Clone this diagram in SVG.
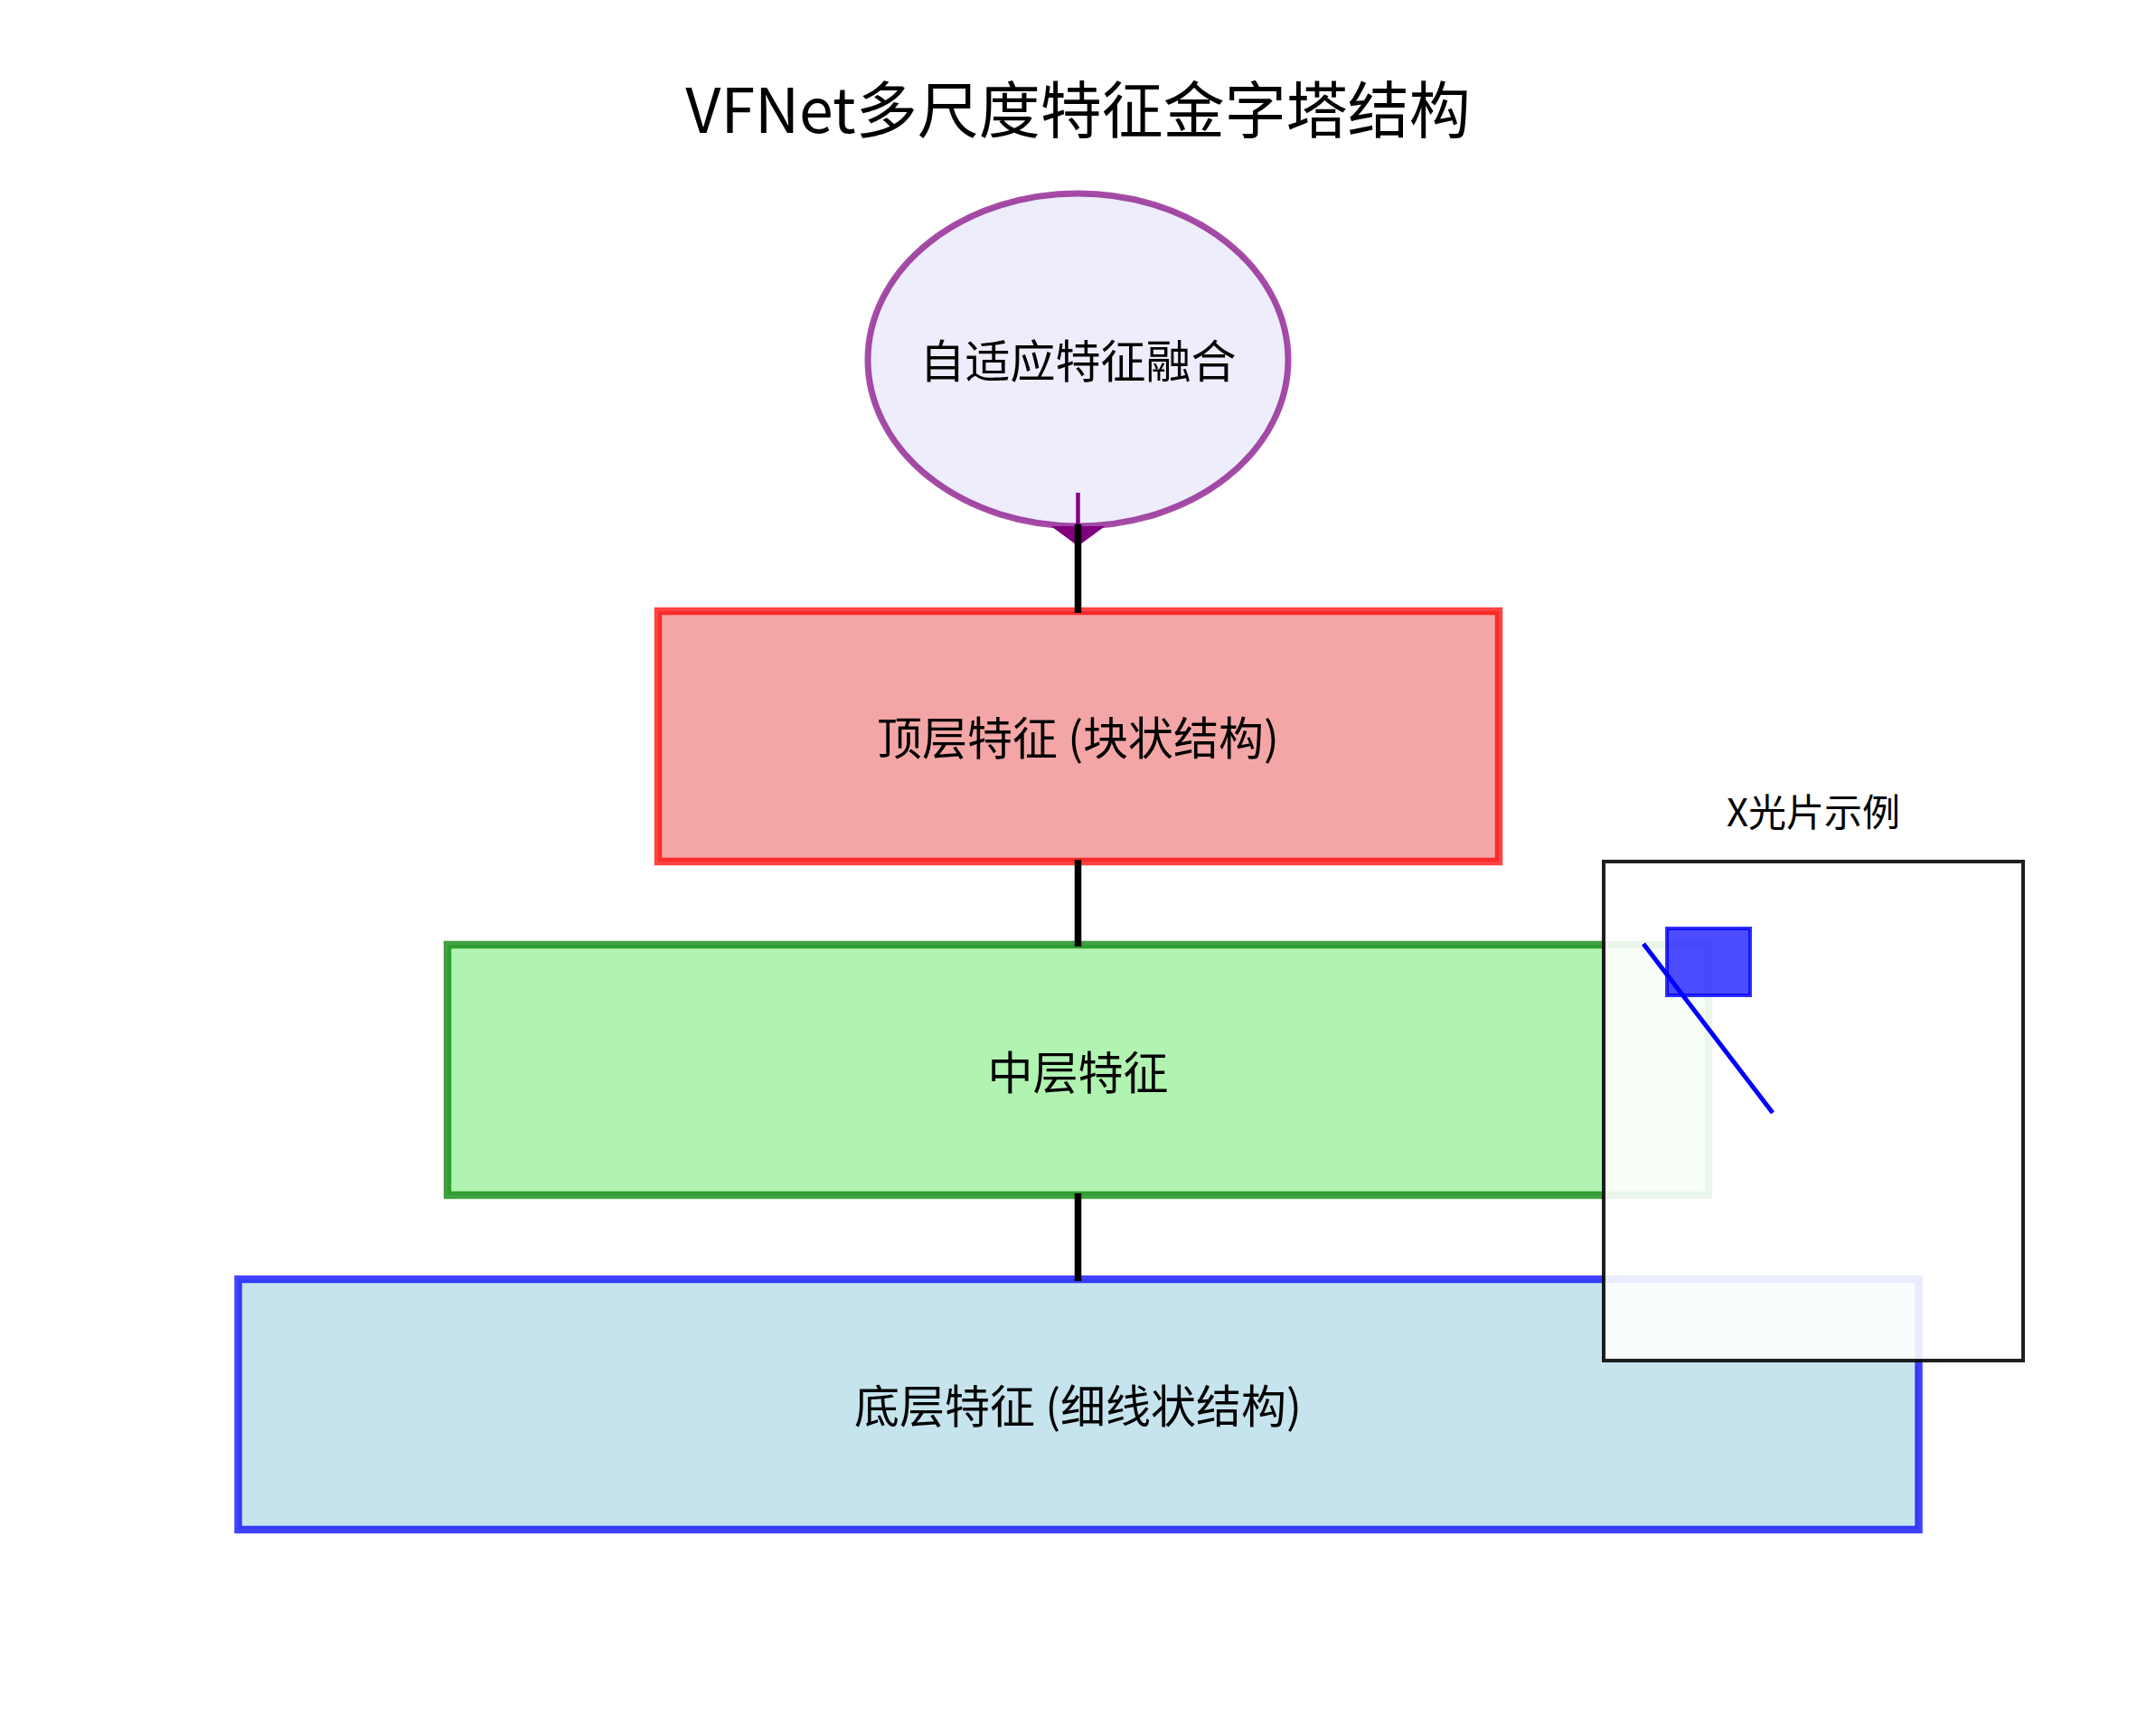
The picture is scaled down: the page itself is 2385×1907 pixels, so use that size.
<svg xmlns="http://www.w3.org/2000/svg" width="2385" height="1907" viewBox="0 0 2385 1907">
  <style>
    text { font-family: "Noto Sans CJK SC", "Noto Sans", sans-serif; fill: #000; text-anchor: middle; dominant-baseline: central; }
    .title { font-size: 68px; }
    .label { font-size: 50px; }
    .small { font-size: 42px; }
    .layer { stroke-width: 8.5; stroke-opacity: 0.74; fill-opacity: 0.7; }
    .conn { stroke: #000; stroke-width: 7.5; fill: none; }
  </style>
  <defs>
    <marker id="arrow" markerUnits="userSpaceOnUse" markerWidth="23" markerHeight="60" viewBox="0 0 23 60" refX="0" refY="30" orient="auto">
      <path d="M0,0 L22,30 L0,60 Z" fill="#800080"/>
    </marker>
  </defs>
  <rect width="2385" height="1907" fill="#fff"/>

  <text class="title" x="1192.5" y="117">VFNet多尺度特征金字塔结构</text>

  <g id="fusion">
    <ellipse cx="1192.5" cy="398" rx="232.5" ry="184" fill="#e6e6fa" fill-opacity="0.7" stroke="#800080" stroke-opacity="0.7" stroke-width="7"/>
    <text class="label" x="1192.5" y="396">自适应特征融合</text>
  </g>

  <g id="top-layer">
    <rect class="layer" x="728" y="676" width="930" height="277" fill="#f08080" stroke="#ff0000"/>
    <text class="label" x="1192.5" y="813">顶层特征 (块状结构)</text>
  </g>

  <g id="middle-layer">
    <rect class="layer" x="495" y="1045" width="1395" height="277" fill="#90ee90" stroke="#008000"/>
    <text class="label" x="1192.5" y="1183">中层特征</text>
  </g>

  <g id="bottom-layer">
    <rect class="layer" x="263.5" y="1415" width="1859" height="277" fill="#add8e6" stroke="#0000ff"/>
    <text class="label" x="1192.5" y="1552">底层特征 (细线状结构)</text>
  </g>

  <g id="connectors">
    <line x1="1192.5" y1="545" x2="1192.5" y2="582" stroke="#800080" stroke-width="4.5" marker-end="url(#arrow)"/>
    <line class="conn" x1="1192.5" y1="580" x2="1192.5" y2="678"/>
    <line class="conn" x1="1192.5" y1="951" x2="1192.5" y2="1047"/>
    <line class="conn" x1="1192.5" y1="1320" x2="1192.5" y2="1417"/>
  </g>

  <g id="xray-example">
    <text class="small" x="2006" y="895">X光片示例</text>
    <rect x="1774" y="953" width="464" height="552" fill="#ffffff" fill-opacity="0.9" stroke="#000" stroke-opacity="0.88" stroke-width="4"/>
    <rect x="1844" y="1027" width="92" height="74" fill="#0000ff" fill-opacity="0.7" stroke="#0000ff" stroke-opacity="0.8" stroke-width="4"/>
    <line x1="1818" y1="1044" x2="1961" y2="1231" stroke="#0000ff" stroke-width="5"/>
  </g>
</svg>
